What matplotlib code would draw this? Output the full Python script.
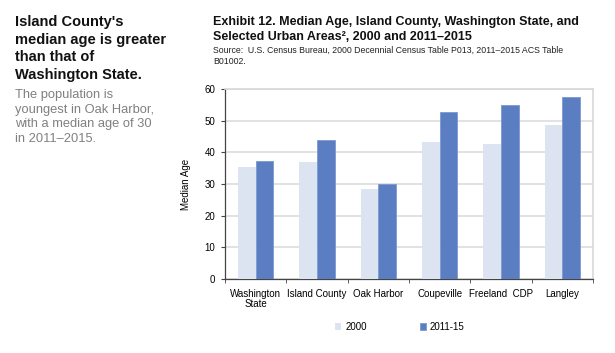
import numpy as np
import matplotlib.pyplot as plt

places = ['Washington\nState', 'Island County', 'Oak Harbor', 'Coupeville', 'Freeland  CDP', 'Langley']
age_2000 = [35.3, 36.9, 28.3, 43.3, 42.5, 48.7]
age_2015 = [37.2, 43.9, 30.1, 52.6, 54.9, 57.4]
series = ['2000', '2011-15']

narrow = ['Liberation Sans Narrow', 'Liberation Sans', 'DejaVu Sans']
plt.rcParams['font.family'] = ['Liberation Sans', 'DejaVu Sans']

fig = plt.figure(figsize=(6.15, 3.53), dpi=100)
ax = fig.add_axes([225 / 615, 1 - 279 / 353, (593 - 225) / 615, (279 - 89) / 353])

x = np.arange(len(places))
w = 0.29
ax.bar(x - w / 2, age_2000, w, color='#dce3f1', label=series[0], zorder=3)
ax.bar(x + w / 2, age_2015, w, color='#5b7ec3', edgecolor='#7b98cf', linewidth=0.6,
       label=series[1], zorder=3)

ax.set_xlim(-0.5, len(places) - 0.5)
ax.set_ylim(0, 60)
ax.set_yticks(range(0, 61, 10))
ax.yaxis.grid(True, color='#dddddd', linewidth=1.2, zorder=0)
ax.set_xticks(x)
ax.set_xticklabels(places, family=narrow, fontsize=7, linespacing=1.0)
ax.set_xticks(np.arange(-0.5, len(places), 1), minor=True)
ax.tick_params(axis='x', which='major', length=0, pad=7)
ax.tick_params(axis='x', which='minor', length=3, color='#444444', direction='out')
ax.tick_params(axis='y', length=3, color='#444444', labelsize=7, pad=4)
for lab in ax.get_yticklabels():
    lab.set_family(narrow)

for s in ['top', 'right']:
    ax.spines[s].set_color('#d8d8d8')
    ax.spines[s].set_linewidth(1.2)
for s in ['left', 'bottom']:
    ax.spines[s].set_color('#444444')
    ax.spines[s].set_linewidth(0.9)

ax.set_ylabel('Median Age', family=narrow, fontsize=7, labelpad=10)

leg = fig.legend(loc='center', bbox_to_anchor=(400 / 615, 1 - 327 / 353), ncol=2,
                 frameon=False, handlelength=0.6, handleheight=0.6,
                 columnspacing=5.5, handletextpad=0.4, prop={'family': narrow, 'size': 7})

# left side text
fig.text(15 / 615, 1 - 15 / 353, "Island County's\nmedian age is greater\nthan that of\nWashington State.",
         fontsize=10.5, fontweight='bold', va='top', ha='left', linespacing=1.33, color='#111111')
fig.text(15 / 615, 1 - 89 / 353, "The population is\nyoungest in Oak Harbor,\nwith a median age of 30\nin 2011\u20132015.",
         fontsize=9.3, va='top', ha='left', linespacing=1.3, color='#808080')

# title block
fig.text(213 / 615, 1 - 16 / 353, "Exhibit 12. Median Age, Island County, Washington State, and\n"
         "Selected Urban Areas\u00b2, 2000 and 2011\u20132015",
         fontsize=9, fontweight='bold', va='top', ha='left', linespacing=1.3, color='#111111')
fig.text(213 / 615, 1 - 46 / 353, "Source:  U.S. Census Bureau, 2000 Decennial Census Table P013, 2011\u20132015 ACS Table\nB01002.",
         fontsize=6.3, va='top', ha='left', linespacing=1.3, color='#222222')

fig.savefig('out.png', dpi=100)
